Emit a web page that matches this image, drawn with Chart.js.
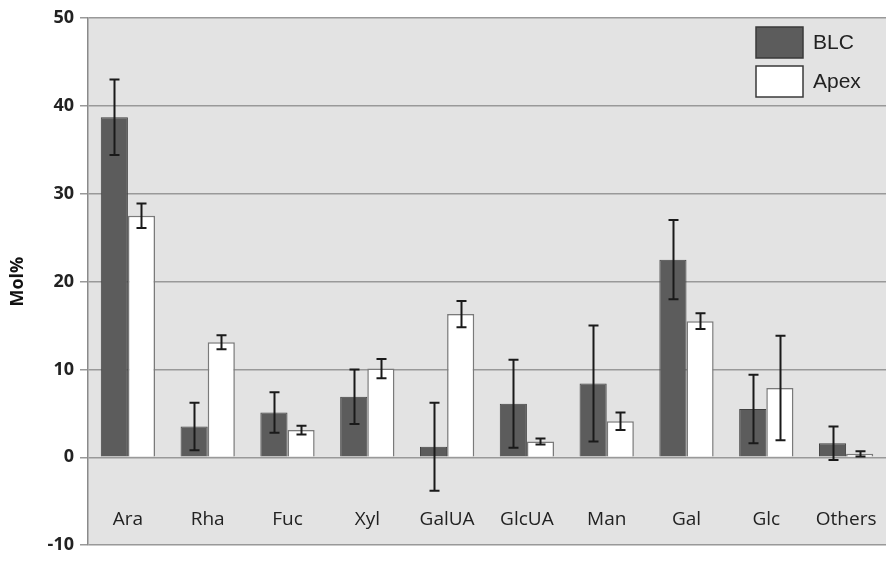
<!DOCTYPE html>
<html>
<head>
<meta charset="utf-8">
<script src="https://cdn.jsdelivr.net/npm/chart.js@4/dist/chart.umd.min.js"></script>
<style>
  html, body { margin: 0; padding: 0; background: #fff; }
  #wrap { width: 886px; height: 562px; }
</style>
</head>
<body>
<div id="wrap"><canvas id="sugarChart"></canvas></div>
<script>
const categories = ["Ara", "Rha", "Fuc", "Xyl", "GalUA", "GlcUA", "Man", "Gal", "Glc", "Others"];
const blcValues = [38.7, 3.5, 5.1, 6.9, 1.2, 6.1, 8.4, 22.5, 5.5, 1.6];
const blcErrors = [4.3, 2.7, 2.3, 3.1, 5.0, 5.0, 6.6, 4.5, 3.9, 1.9];
const apexValues = [27.5, 13.1, 3.1, 10.1, 16.3, 1.8, 4.1, 15.5, 7.9, 0.4];
const apexErrors = [1.4, 0.8, 0.5, 1.1, 1.5, 0.35, 1.0, 0.9, 5.95, 0.3];
const yTicks = [-10, 0, 10, 20, 30, 40, 50];

const errors = [blcErrors, apexErrors];

// grey plot background
const plotBackground = {
  id: "plotBackground",
  beforeDraw(chart) {
    const { ctx, chartArea: a } = chart;
    ctx.save();
    ctx.fillStyle = "#e3e3e3";
    ctx.fillRect(a.left, a.top, a.right - a.left, a.bottom - a.top);
    ctx.restore();
  }
};

// error bars with caps
const errorBars = {
  id: "errorBars",
  afterDatasetsDraw(chart) {
    const { ctx } = chart;
    const y = chart.scales.y;
    ctx.save();
    ctx.strokeStyle = "#1a1a1a";
    ctx.lineWidth = 2;
    chart.data.datasets.forEach((ds, di) => {
      const meta = chart.getDatasetMeta(di);
      meta.data.forEach((bar, i) => {
        const v = ds.data[i];
        const e = errors[di][i];
        const top = y.getPixelForValue(v + e);
        const bot = y.getPixelForValue(v - e);
        const x = Math.round(bar.x) + 0.5;
        ctx.beginPath();
        ctx.moveTo(x, top); ctx.lineTo(x, bot);
        ctx.moveTo(x - 5, top); ctx.lineTo(x + 5, top);
        ctx.moveTo(x - 5, bot); ctx.lineTo(x + 5, bot);
        ctx.stroke();
      });
    });
    ctx.restore();
  }
};

// legend in the top-right corner of the plot
const insideLegend = {
  id: "insideLegend",
  afterDraw(chart) {
    const { ctx, chartArea: a } = chart;
    ctx.save();
    ctx.font = "21px 'Liberation Sans', Arial, sans-serif";
    ctx.textBaseline = "middle";
    chart.data.datasets.forEach((ds, i) => {
      const bx = a.right - 130, by = a.top + 9 + i * 39;
      ctx.fillStyle = ds.backgroundColor;
      ctx.fillRect(bx, by, 47, 31);
      ctx.strokeStyle = "#3a3a3a";
      ctx.lineWidth = 1.5;
      ctx.strokeRect(bx, by, 47, 31);
      ctx.fillStyle = "#222";
      ctx.fillText(ds.label, bx + 57, by + 16);
    });
    ctx.restore();
  }
};

new Chart(document.getElementById("sugarChart").getContext("2d"), {
  type: "bar",
  data: {
    labels: categories,
    datasets: [
      {
        label: "BLC",
        data: blcValues,
        backgroundColor: "#5c5c5c",
        borderColor: "#404040",
        borderWidth: 1
      },
      {
        label: "Apex",
        data: apexValues,
        backgroundColor: "#ffffff",
        borderColor: "#7a7a7a",
        borderWidth: 1.5
      }
    ]
  },
  options: {
    responsive: true,
    maintainAspectRatio: false,
    animation: false,
    layout: { padding: { top: 18, right: 0, bottom: 7, left: 0 } },
    datasets: { bar: { categoryPercentage: 0.68, barPercentage: 1 } },
    plugins: {
      legend: { display: false },
      tooltip: { enabled: false }
    },
    scales: {
      x: {
        type: "category",
        position: { y: 0 },
        afterFit(scale) {
          scale.paddingLeft = 0;
          scale.paddingRight = 0;
        },
        grid: { display: false },
        border: { display: false },
        ticks: {
          padding: 43,
          color: "#222",
          maxRotation: 0,
          font: { family: "'Open Sans', sans-serif", size: 19 }
        }
      },
      y: {
        min: -10,
        max: 50,
        afterBuildTicks(scale) {
          scale.ticks = yTicks.map(v => ({ value: v }));
        },
        afterFit(scale) { scale.width = 88; },
        grid: { color: "#999", lineWidth: 1.5, tickLength: 8 },
        border: { display: true, color: "#8a8a8a", width: 1.5 },
        ticks: {
          padding: 6,
          color: "#222",
          font: { family: "'Open Sans', sans-serif", size: 18, weight: "bold" }
        },
        title: {
          display: true,
          text: "Mol%",
          color: "#111",
          padding: { top: 7, bottom: 0 },
          font: { family: "'Open Sans', sans-serif", size: 18, weight: "bold" }
        }
      }
    }
  },
  plugins: [plotBackground, errorBars, insideLegend]
});
</script>
</body>
</html>
